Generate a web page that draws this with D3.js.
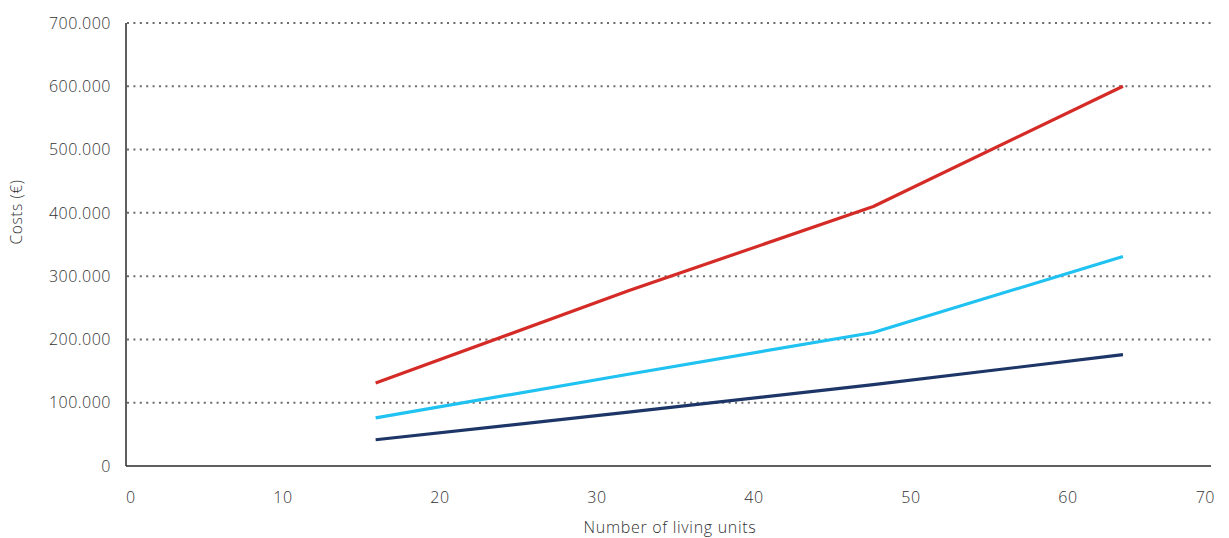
<!DOCTYPE html>
<html>
<head>
<meta charset="utf-8">
<script src="https://cdn.jsdelivr.net/npm/d3@7"></script>
<style>
  html, body { margin: 0; padding: 0; background: #fff; }
  svg { display: block; }
  text { font-family: "Open Sans", "Noto Sans", sans-serif; font-weight: 300; fill: #333; }
</style>
</head>
<body>
<svg id="chart" width="1229" height="538"></svg>
<script>
// ---- data ----
const units = [15.9, 32, 47.6, 63.5];
const seriesRed = [131000, 277000, 410000, 600000];
const seriesCyan = [76000, 145000, 211000, 331000];
const seriesNavy = [41500, 85000, 128500, 176000];
const xTicks = [0, 10, 20, 30, 40, 50, 60, 70];
const yTicks = [0, 100000, 200000, 300000, 400000, 500000, 600000, 700000];
const xTitle = "Number of living units";
const yTitle = "Costs (€)";

const series = [
  { name: "red", values: seriesRed, color: "#d52b27" },
  { name: "cyan", values: seriesCyan, color: "#1fc2f0" },
  { name: "navy", values: seriesNavy, color: "#1d3667" }
];

// ---- layout ----
const svg = d3.select("#chart");
const plotLeft = 126, plotRight = 1211, plotTop = 23, plotBottom = 466;
const x = d3.scaleLinear().domain([0, 70]).range([plotLeft, 1225]);
const y = d3.scaleLinear().domain([0, 700000]).range([plotBottom, plotTop]);

const loc = d3.formatLocale({ decimal: ",", thousands: ".", grouping: [3], currency: ["€", ""] });
const fmt = loc.format(",.0f");

// gridlines
svg.append("g")
  .selectAll("line")
  .data(yTicks.filter(d => d > 0))
  .join("line")
  .attr("x1", plotLeft + 1).attr("x2", plotRight)
  .attr("y1", d => y(d)).attr("y2", d => y(d))
  .attr("stroke", "#6b6b6b")
  .attr("stroke-width", 2)
  .attr("stroke-dasharray", "2,4.4");

// y labels
svg.append("g")
  .selectAll("text")
  .data(yTicks)
  .join("text")
  .attr("x", 111)
  .attr("y", d => y(d))
  .attr("dy", "0.36em")
  .attr("text-anchor", "end")
  .attr("font-size", 16)
  .attr("letter-spacing", 0.5)
  .text(d => fmt(d));

// x labels
svg.append("g")
  .selectAll("text")
  .data(xTicks)
  .join("text")
  .attr("x", (d, i) => i === 0 ? plotLeft : (i === xTicks.length - 1 ? 1215 : x(d)))
  .attr("y", 503)
  .attr("text-anchor", (d, i) => i === 0 ? "start" : (i === xTicks.length - 1 ? "end" : "middle"))
  .attr("font-size", 16)
  .attr("letter-spacing", 0.5)
  .text(d => d);

// axes lines
svg.append("line")
  .attr("x1", plotLeft).attr("x2", plotLeft)
  .attr("y1", plotTop).attr("y2", plotBottom)
  .attr("stroke", "#2a2a2a").attr("stroke-width", 1.5);
svg.append("line")
  .attr("x1", plotLeft).attr("x2", plotRight)
  .attr("y1", plotBottom).attr("y2", plotBottom)
  .attr("stroke", "#2a2a2a").attr("stroke-width", 1.5);

// lines
const line = d3.line()
  .x((d, i) => x(units[i]))
  .y(d => y(d));
svg.append("g")
  .selectAll("path")
  .data(series)
  .join("path")
  .attr("d", d => line(d.values))
  .attr("fill", "none")
  .attr("stroke", d => d.color)
  .attr("stroke-width", 3.2)
  .attr("stroke-linejoin", "round");

// titles
svg.append("text")
  .attr("x", 670).attr("y", 533)
  .attr("text-anchor", "middle")
  .attr("font-size", 16)
  .attr("letter-spacing", 0.7)
  .text(xTitle);
svg.append("text")
  .attr("transform", "translate(22,212) rotate(-90)")
  .attr("text-anchor", "middle")
  .attr("font-size", 15.5)
  .attr("letter-spacing", 0.6)
  .text(yTitle);
</script>
</body>
</html>
